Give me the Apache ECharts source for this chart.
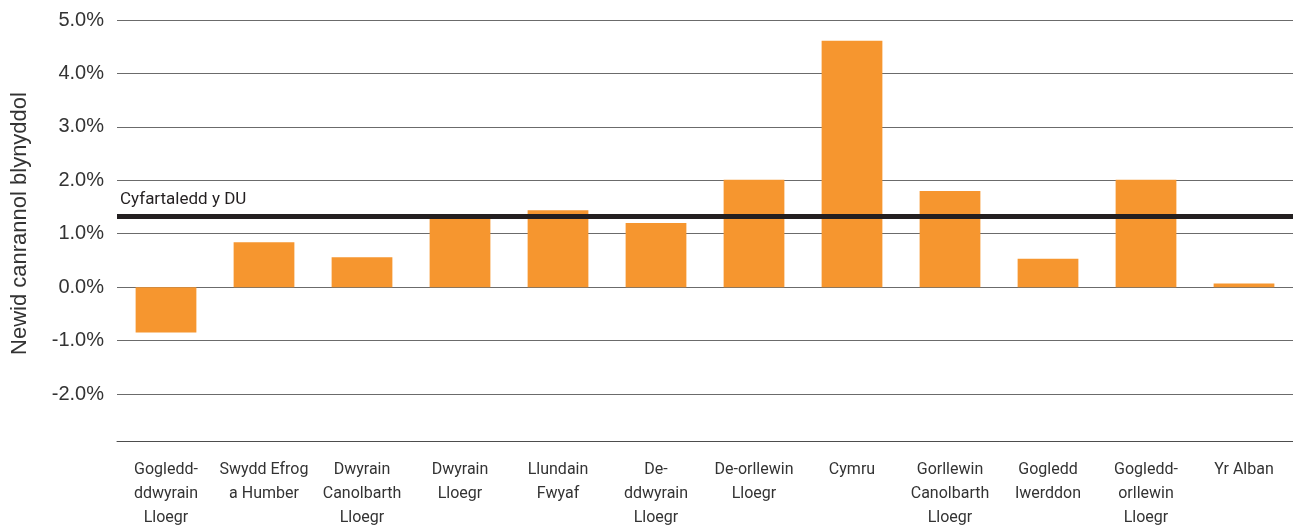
<!DOCTYPE html>
<html>
<head>
<meta charset="utf-8">
<script src="https://cdn.jsdelivr.net/npm/echarts@6/dist/echarts.min.js"></script>
<style>
html,body{margin:0;padding:0;background:#fff;}
#chart{width:1293px;height:531px;}
</style>
</head>
<body>
<div id="chart"></div>
<script>
var categories = ["Gogledd-\nddwyrain\nLloegr", "Swydd Efrog\na Humber", "Dwyrain\nCanolbarth\nLloegr", "Dwyrain\nLloegr", "Llundain\nFwyaf", "De-\nddwyrain\nLloegr", "De-orllewin\nLloegr", "Cymru", "Gorllewin\nCanolbarth\nLloegr", "Gogledd\nIwerddon", "Gogledd-\norllewin\nLloegr", "Yr Alban"];
var values = [-0.85, 0.84, 0.56, 1.30, 1.44, 1.20, 2.01, 4.61, 1.80, 0.53, 2.01, 0.07];
var ukAverage = 1.335;
var ukAverageLabel = "Cyfartaledd y DU";
var yTickValues = [-2, -1, 0, 1, 2, 3, 4, 5];
var yTickLabels = ["-2.0%", "-1.0%", "0.0%", "1.0%", "2.0%", "3.0%", "4.0%", "5.0%"];
var yAxisTitle = "Newid canrannol blynyddol";

var chart = echarts.init(document.getElementById('chart'), null, {renderer: 'canvas'});
chart.setOption({
  animation: false,
  backgroundColor: '#ffffff',
  grid: {left: 117, right: -2, top: 20, bottom: 90, containLabel: false},
  xAxis: {
    type: 'category',
    data: categories,
    axisLine: {onZero: false, lineStyle: {color: '#4d4d4d', width: 1}},
    axisTick: {show: false},
    axisLabel: {
      interval: 0, margin: 17, color: '#333333',
      fontFamily: 'Roboto', fontSize: 16, lineHeight: 24
    }
  },
  yAxis: {
    type: 'value',
    min: -2.88, max: 5, splitNumber: 8,
    name: yAxisTitle,
    nameLocation: 'middle',
    nameGap: 86,
    nameTextStyle: {fontFamily: 'Liberation Sans', fontSize: 22, color: '#333333', padding: [0, 0, 0, 14]},
    axisLine: {show: false},
    axisTick: {show: false},
    axisLabel: {
      margin: 13, color: '#333333', fontFamily: 'Liberation Sans', fontSize: 20,
      formatter: function (v) {
        for (var i = 0; i < yTickValues.length; i++) {
          if (Math.abs(v - yTickValues[i]) < 1e-6) return yTickLabels[i];
        }
        return '';
      }
    },
    splitLine: {lineStyle: {color: '#6b6b6b', width: 1}}
  },
  series: [{
    type: 'bar',
    data: values,
    barWidth: '62%',
    itemStyle: {color: '#f6962f'},
    markLine: {
      silent: true,
      symbol: ['none', 'none'],
      data: [{yAxis: ukAverage}],
      lineStyle: {color: '#231f20', width: 5, type: 'solid'},
      label: {
        show: true, position: 'insideStartTop', distance: [3, 8],
        formatter: ukAverageLabel,
        color: '#231f20', fontFamily: 'Roboto', fontSize: 17
      }
    }
  }]
});
</script>
</body>
</html>
